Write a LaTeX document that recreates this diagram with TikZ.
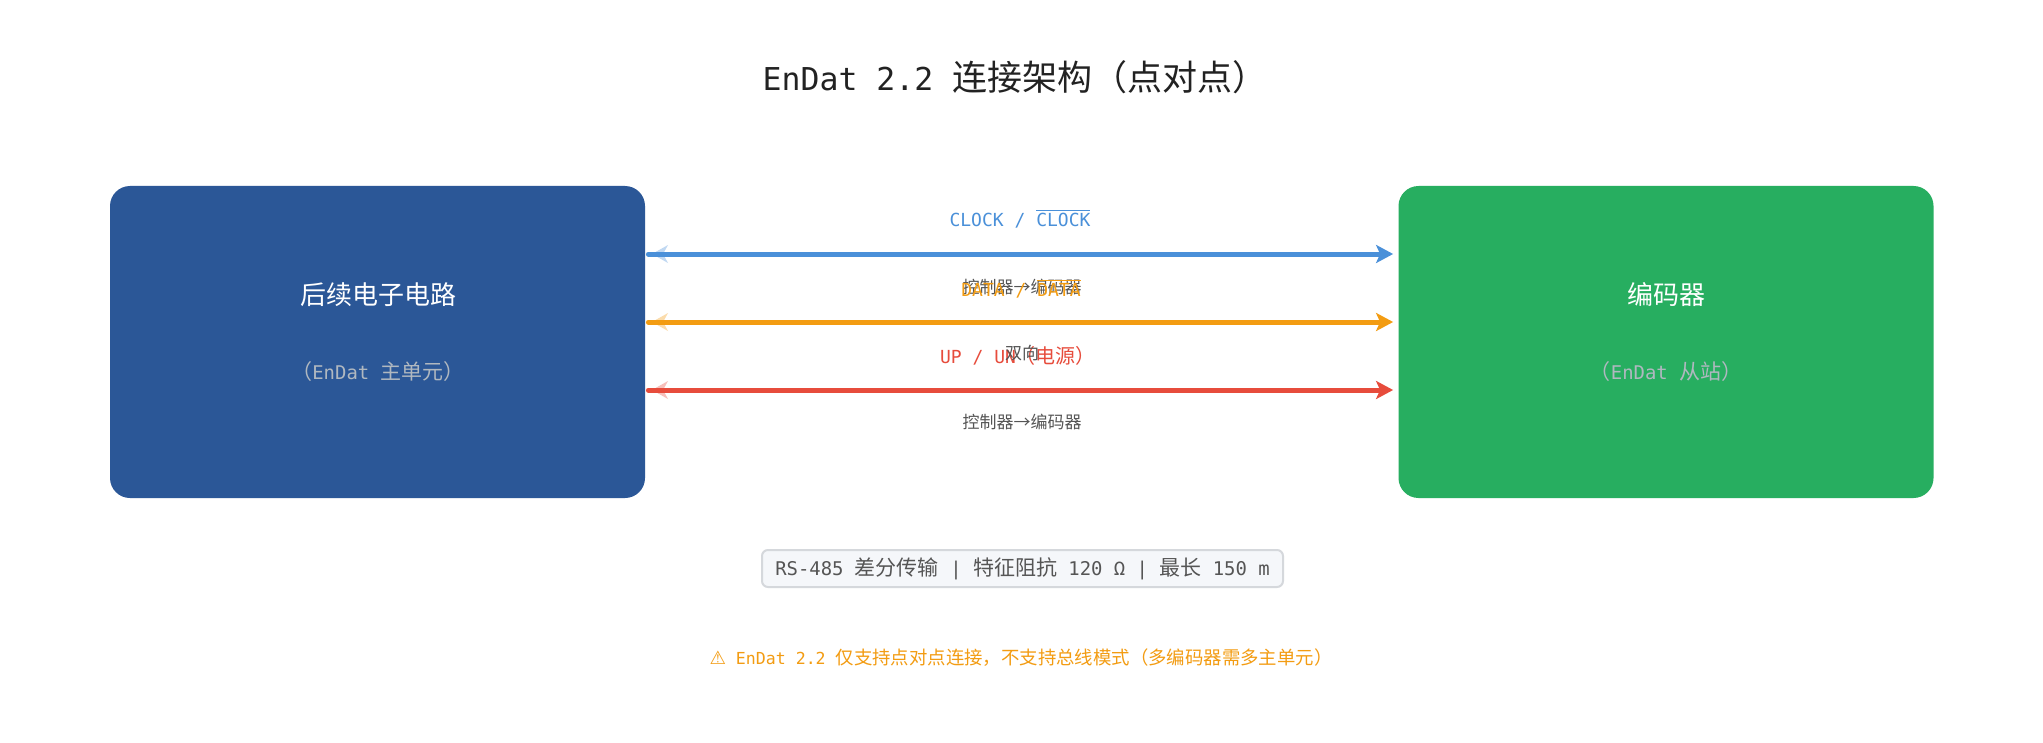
\documentclass[tikz,border=0pt]{standalone}
\usepackage{fontspec}
\setmainfont{DejaVu Sans Mono}[Scale=0.9]
\newfontfamily\cjk{Noto Sans CJK SC}
\newfontfamily\symf{DejaVu Sans}
\newcommand\C[1]{{\cjk #1}}
\usetikzlibrary{arrows.meta}
\definecolor{boxblue}{HTML}{2B5797}
\definecolor{boxgreen}{HTML}{27AE60}
\definecolor{lblue}{HTML}{4A90D9}
\definecolor{lorange}{HTML}{F39C12}
\definecolor{lred}{HTML}{E74C3C}
\definecolor{tgray}{HTML}{555555}
\definecolor{subgray}{HTML}{B0B8C0}
\definecolor{ttl}{HTML}{222222}
\definecolor{specfill}{HTML}{F5F7FA}
\definecolor{specdraw}{HTML}{D5D8DC}
\tikzset{
  bigbox/.style={rectangle, rounded corners=10pt, minimum width=267.5pt, minimum height=156pt, inner sep=0pt, draw=none},
  boxtitle/.style={text=white, font=\fontsize{13pt}{15pt}\selectfont, inner sep=0pt},
  boxsub/.style={text=subgray, font=\fontsize{10.5pt}{12pt}\selectfont, inner sep=0pt},
  siglabel/.style={font=\fontsize{10pt}{12pt}\selectfont, inner sep=0pt},
  desc/.style={text=tgray, font=\cjk\fontsize{8.5pt}{10pt}\selectfont, inner sep=0pt},
  sig/.style={line width=2.5pt, line cap=round, -{Stealth[length=8.5pt,width=9pt,inset=2pt]}},
}
\begin{document}
\begin{tikzpicture}[x=0.5pt,y=-0.5pt]
\useasboundingbox[fill=white] (0,0) rectangle (2043,743);

\node[text=ttl, font=\fontsize{17.5pt}{21pt}\selectfont, inner sep=0pt] (title) at (1015,77) {EnDat 2.2 \C{连接架构（点对点）}};

\node[bigbox, fill=boxblue] (master) at (377.5,342) {};
\node[bigbox, fill=boxgreen] (slave) at (1666,342) {};

\node[boxtitle] (mt) at (378,295) {\C{后续电子电路}};
\node[boxsub] (ms) at (378,372) {\C{（}EnDat \C{主单元）}};
\node[boxtitle] (st) at (1666,295) {\C{编码器}};
\node[boxsub] (ss) at (1666,372) {\C{（}EnDat \C{从站）}};

\coordinate (y1) at (0,254);
\coordinate (y2) at (0,322);
\coordinate (y3) at (0,390);

% pale back tips
\fill[lblue!35] (668,245) -- (652,254) -- (668,263) -- (663,254) -- cycle;
\fill[lorange!35] (668,313) -- (652,322) -- (668,331) -- (663,322) -- cycle;
\fill[lred!35] (668,381) -- (652,390) -- (668,399) -- (663,390) -- cycle;

\draw[sig, draw=lblue, fill=lblue] ([xshift=1.5pt]master.east |- y1) -- ([xshift=-2.5pt]slave.west |- y1);
\draw[sig, draw=lorange, fill=lorange] ([xshift=1.5pt]master.east |- y2) -- ([xshift=-2.5pt]slave.west |- y2);
\draw[sig, draw=lred, fill=lred] ([xshift=1.5pt]master.east |- y3) -- ([xshift=-2.5pt]slave.west |- y3);

\node[siglabel, text=lblue] (l1) at (1020,219) {CLOCK / $\overline{\hbox{CLOCK}}$};
\node[desc] (d1) at (1022,287) {控制器→编码器};
\node[siglabel, text=lorange] (l2) at (1021,289) {DATA / $\overline{\hbox{DATA}}$};
\node[siglabel, text=lred] (l3) at (1018,356) {UP / UN\C{（电源）}};
\node[desc] (d2) at (1022,353) {双向};
\node[desc] (d3) at (1022,422) {控制器→编码器};

\node[rectangle, rounded corners=3pt, fill=specfill, draw=specdraw, line width=1pt, minimum width=260.5pt, minimum height=18.5pt, inner sep=0pt, text=tgray, font=\fontsize{10.5pt}{12pt}\selectfont] (spec) at (1022.5,568.5) {RS-485 \C{差分传输} | \C{特征阻抗} 120 Ω | \C{最长} 150 m};

\node[text=lorange, font=\fontsize{9.2pt}{11pt}\selectfont, inner sep=0pt] (note) at (1021,658) {{\symf ⚠} EnDat 2.2 \C{仅支持点对点连接，不支持总线模式（多编码器需多主单元）}};
\end{tikzpicture}
\end{document}
